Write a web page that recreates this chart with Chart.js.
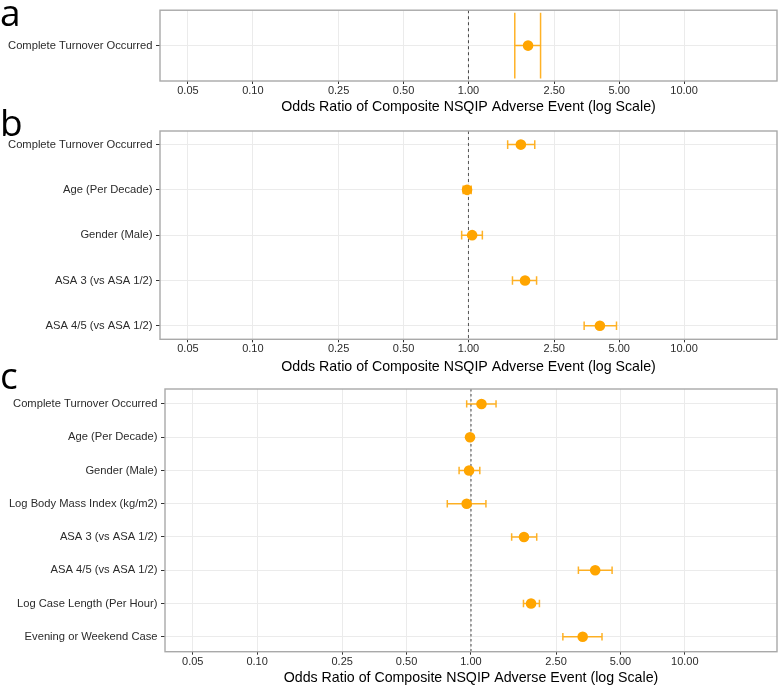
<!DOCTYPE html>
<html>
<head>
<meta charset="utf-8">
<script src="https://cdn.jsdelivr.net/npm/chart.js@4.4.1/dist/chart.umd.min.js"></script>
<style>
  body { margin: 0; background: #fff; }
  #wrap { position: relative; width: 778px; height: 688px; overflow: hidden; }
  .panel { position: absolute; left: 0; width: 778px; }
  .tag { position: absolute; left: 0; font-family: "Open Sans", sans-serif; font-size: 37px; line-height: 37px; color: #000; }
</style>
</head>
<body>
<div id="wrap">
  <div class="panel" style="top:0;height:118px"><canvas id="chartA"></canvas></div>
  <div class="panel" style="top:118px;height:258px"><canvas id="chartB"></canvas></div>
  <div class="panel" style="top:376px;height:312px"><canvas id="chartC"></canvas></div>
  <div class="tag" style="top:-7px">a</div>
  <div class="tag" style="top:103px">b</div>
  <div class="tag" style="top:356px">c</div>
</div>
<script>
// x axis breaks
let ticksX = [0.05, 0.10, 0.25, 0.50, 1.00, 2.50, 5.00, 10.00]
let axisTitle = "Odds Ratio of Composite NSQIP Adverse Event (log Scale)"

// panel a
let catsA = ["Complete Turnover Occurred"]
let orA = [1.89]
let loA = [1.64]
let hiA = [2.16]

// panel b
let catsB = ["Complete Turnover Occurred", "Age (Per Decade)", "Gender (Male)",
    "ASA 3 (vs ASA 1/2)", "ASA 4/5 (vs ASA 1/2)"]
let orB = [1.75, 0.985, 1.04, 1.83, 4.07]
let loB = [1.52, 0.945, 0.93, 1.60, 3.44]
let hiB = [2.03, 1.03, 1.16, 2.07, 4.86]

// panel c
let catsC = ["Complete Turnover Occurred", "Age (Per Decade)", "Gender (Male)",
    "Log Body Mass Index (kg/m2)", "ASA 3 (vs ASA 1/2)", "ASA 4/5 (vs ASA 1/2)",
    "Log Case Length (Per Hour)", "Evening or Weekend Case"]
let orC = [1.12, 0.99, 0.98, 0.955, 1.77, 3.81, 1.91, 3.33]
let loC = [0.955, 0.975, 0.88, 0.775, 1.55, 3.18, 1.76, 2.69]
let hiC = [1.31, 1.01, 1.10, 1.175, 2.03, 4.57, 2.09, 4.10]

Chart.defaults.font.family = "'Liberation Sans', Arial, sans-serif"
Chart.defaults.animation = false

let orange = "#ffa500"
let barColor = "rgba(255,165,0,0.85)"

// whiskers and caps, drawn under the points
let errorBars = {
    id: "errorBars",
    beforeDatasetsDraw(chart, args, opts) {
        let ctx = chart.ctx
        let xs = chart.scales.x
        let ys = chart.scales.y
        ctx.save()
        ctx.strokeStyle = barColor
        ctx.lineWidth = 1.5
        for (let i = 0; i < opts.lo.length; i++) {
            let x1 = xs.getPixelForValue(opts.lo[i])
            let x2 = xs.getPixelForValue(opts.hi[i])
            let y = ys.getPixelForValue(i)
            let y1 = ys.getPixelForValue(i - opts.cap)
            let y2 = ys.getPixelForValue(i + opts.cap)
            ctx.beginPath()
            ctx.moveTo(x1, y); ctx.lineTo(x2, y)
            ctx.moveTo(x1, y1); ctx.lineTo(x1, y2)
            ctx.moveTo(x2, y1); ctx.lineTo(x2, y2)
            ctx.stroke()
        }
        ctx.restore()
    }
}

// dashed reference line at OR = 1
let refLine = {
    id: "refLine",
    beforeDatasetsDraw(chart, args, opts) {
        let ctx = chart.ctx
        let area = chart.chartArea
        let x = chart.scales.x.getPixelForValue(1)
        ctx.save()
        ctx.strokeStyle = opts.color
        ctx.lineWidth = opts.width
        ctx.setLineDash(opts.dash)
        ctx.beginPath()
        ctx.moveTo(x, area.top)
        ctx.lineTo(x, area.bottom)
        ctx.stroke()
        ctx.restore()
    }
}

let panelBorder = {
    id: "panelBorder",
    afterDatasetsDraw(chart) {
        let ctx = chart.ctx
        let a = chart.chartArea
        ctx.save()
        ctx.strokeStyle = "#a9a9a9"
        ctx.lineWidth = 1.4
        ctx.strokeRect(a.left, a.top, a.right - a.left, a.bottom - a.top)
        ctx.restore()
    }
}

function DrawPanel(id, cats, or, lo, hi, cfg) {
    let points = []
    for (let i = 0; i < or.length; i++) {
        points.push({x: or[i], y: i})
    }
    return new Chart(id, {
        type: "scatter",
        data: {
            datasets: [{
                data: points,
                backgroundColor: orange,
                borderColor: orange,
                pointRadius: 5.3,
                pointHoverRadius: 5.3,
                borderWidth: 0
            }]
        },
        options: {
            responsive: true,
            maintainAspectRatio: false,
            layout: {autoPadding: false, padding: {top: cfg.top, right: 1, left: 0, bottom: 0}},
            plugins: {
                legend: {display: false},
                tooltip: {enabled: false},
                errorBars: {lo: lo, hi: hi, cap: cfg.cap},
                refLine: cfg.ref
            },
            scales: {
                x: {
                    type: "logarithmic",
                    min: 0.0371,
                    max: 26.98,
                    afterBuildTicks: (s) => { s.ticks = ticksX.map(v => ({value: v})) },
                    afterFit: (s) => {
                        s.height = cfg.axisH
                        s.paddingLeft = 0
                        s.paddingRight = 0
                    },
                    ticks: {
                        autoSkip: false,
                        maxRotation: 0,
                        padding: 0.5,
                        color: "#2b2b2b",
                        font: {size: 11},
                        callback: (v) => Number(v).toFixed(2)
                    },
                    grid: {color: "#ebebeb", lineWidth: 1, tickLength: 3, tickColor: "#333"},
                    border: {display: false},
                    title: {
                        display: true,
                        text: axisTitle,
                        color: "#000",
                        font: {size: 14.2},
                        padding: {top: 0, bottom: cfg.titlePad}
                    }
                },
                y: {
                    type: "linear",
                    reverse: true,
                    min: cfg.ymin,
                    max: cats.length - 1 + cfg.ypad,
                    afterBuildTicks: (s) => { s.ticks = cats.map((c, i) => ({value: i})) },
                    afterFit: (s) => { s.width = cfg.left },
                    ticks: {
                        autoSkip: false,
                        padding: 3.5,
                        color: "#2b2b2b",
                        font: {size: 11.2},
                        callback: (v) => cats[v]
                    },
                    grid: {color: "#ebebeb", lineWidth: 1, tickLength: 4, tickColor: "#333"},
                    border: {display: false}
                }
            }
        },
        plugins: [refLine, errorBars, panelBorder]
    })
}

DrawPanel("chartA", catsA, orA, loA, hiA, {
    top: 8, left: 160, axisH: 37, titlePad: 2.2, ymin: -0.5, ypad: 0.5, cap: 0.465,
    ref: {color: "#444", width: 1, dash: [3, 3]}
})
DrawPanel("chartB", catsB, orB, loB, hiB, {
    top: 13, left: 160, axisH: 36.7, titlePad: 0.6, ymin: -0.3, ypad: 0.3, cap: 0.095,
    ref: {color: "#555", width: 1, dash: [3, 3]}
})
DrawPanel("chartC", catsC, orC, loC, hiC, {
    top: 13, left: 165, axisH: 36.3, titlePad: 1.2, ymin: -0.45, ypad: 0.45, cap: 0.11,
    ref: {color: "#888", width: 1.6, dash: [2.5, 2.5]}
})
</script>
</body>
</html>
